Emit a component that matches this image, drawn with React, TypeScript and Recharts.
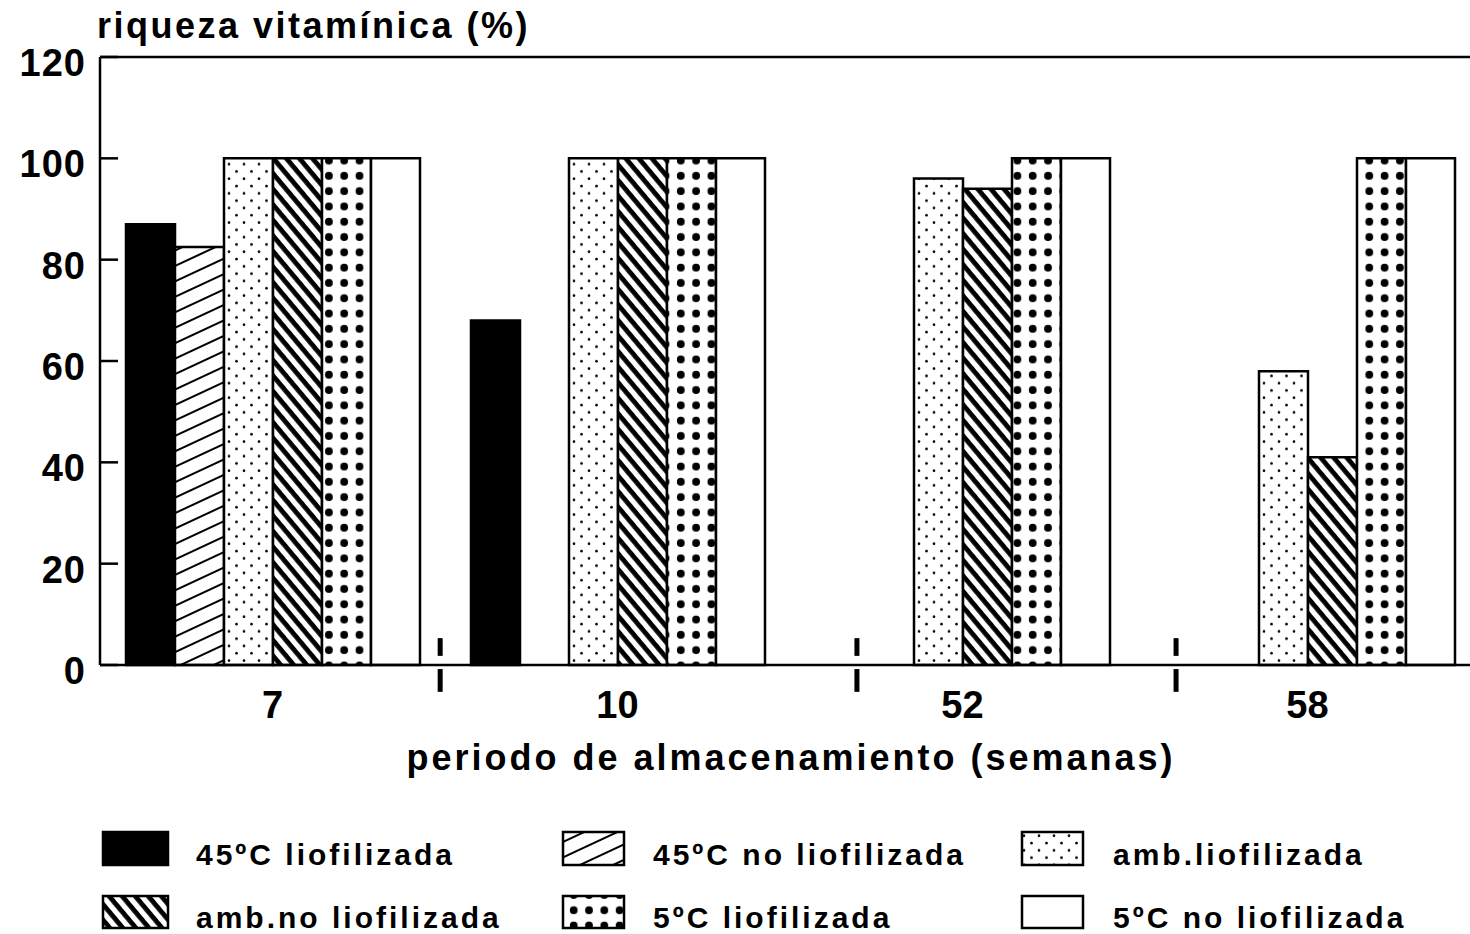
import { BarChart, Bar, XAxis, YAxis, ReferenceLine } from "recharts";

// storage period (weeks)
const CATEGORIES = ["7", "10", "52", "58"];

// vitamin content (%) per series, same order as CATEGORIES
const S45_LIO = [87, 68, null, null];
const S45_NOLIO = [82.5, null, null, null];
const AMB_LIO = [100, 100, 96, 58];
const AMB_NOLIO = [100, 100, 94, 41];
const S5_LIO = [100, 100, 100, 100];
const S5_NOLIO = [100, 100, 100, 100];

const Y_TICKS = [0, 20, 40, 60, 80, 100, 120];

// break marks on the x axis, in band units (0..4)
const SEPARATORS = [0.986, 2.194, 3.119];

const FONT = "'Liberation Sans', Arial, Helvetica, sans-serif";

const SERIES = [
  { key: "s45lio", name: "45ºC liofilizada", fill: "#000", values: S45_LIO },
  { key: "s45nolio", name: "45ºC no liofilizada", fill: "url(#hatchUp)", values: S45_NOLIO },
  { key: "amblio", name: "amb.liofilizada", fill: "url(#fineDots)", values: AMB_LIO },
  { key: "ambnolio", name: "amb.no liofilizada", fill: "url(#stripes)", values: AMB_NOLIO },
  { key: "s5lio", name: "5ºC liofilizada", fill: "url(#bigDots)", values: S5_LIO },
  { key: "s5nolio", name: "5ºC no liofilizada", fill: "#fff", values: S5_NOLIO },
];

const data = CATEGORIES.map((period, i) => {
  // band = centre of the category in band units, used by the separator axis
  const row: Record<string, string | number | null> = { period, band: i + 0.5 };
  SERIES.forEach((s) => {
    row[s.key] = s.values[i];
  });
  return row;
});

// legend grid: 3 columns, 2 rows
const LEGEND_COLS = [
  { box: 103, w: 65, text: 196 },
  { box: 563, w: 61, text: 653 },
  { box: 1022, w: 61, text: 1113 },
];
const LEGEND_ROWS = [
  { box: 832, h: 33, base: 865 },
  { box: 896, h: 32, base: 928 },
];

function YTick(props: any) {
  const { x, y, payload } = props;
  const axisX = x + 12;
  return (
    <g>
      <line x1={axisX} y1={y} x2={axisX + 18} y2={y} stroke="#000" strokeWidth={2.5} />
      <text
        x={x - 2}
        y={y}
        dy={19}
        textAnchor="end"
        fill="#000"
        fontSize={38}
        fontWeight={700}
        fontFamily={FONT}
        letterSpacing={1}
      >
        {payload.value}
      </text>
    </g>
  );
}

function Patterns() {
  return (
    <defs>
      <pattern id="hatchUp" patternUnits="userSpaceOnUse" width="14" height="14" patternTransform="rotate(-25)">
        <rect width="14" height="14" fill="#fff" />
        <line x1="0" y1="7" x2="14" y2="7" stroke="#000" strokeWidth="2" />
      </pattern>
      <pattern id="stripes" patternUnits="userSpaceOnUse" width="10" height="10" patternTransform="rotate(50)">
        <rect width="10" height="10" fill="#fff" />
        <rect x="0" y="0" width="10" height="4.8" fill="#000" />
      </pattern>
      <pattern id="fineDots" patternUnits="userSpaceOnUse" width="15" height="14.6">
        <rect width="15" height="14.6" fill="#fff" />
        <circle cx="4" cy="3.6" r="1.3" fill="#000" />
        <circle cx="11.5" cy="10.9" r="1.3" fill="#000" />
      </pattern>
      <pattern id="bigDots" patternUnits="userSpaceOnUse" width="15.3" height="15.3">
        <rect width="15.3" height="15.3" fill="#fff" />
        <circle cx="7.6" cy="7.6" r="3.9" fill="#000" />
      </pattern>
    </defs>
  );
}

export default function App() {
  return (
    <div
      style={{
        position: "absolute",
        left: 0,
        top: 0,
        width: 1470,
        height: 934,
        overflow: "hidden",
        background: "#fff",
      }}
    >
      <BarChart
        width={1480}
        height={934}
        data={data}
        margin={{ top: 57, right: 0, bottom: 239, left: 0 }}
        barSize={49}
        barGap={0}
      >
        <Patterns />
        <XAxis
          dataKey="period"
          height={30}
          tickLine={false}
          tickSize={0}
          tickMargin={26}
          axisLine={{ stroke: "#000", strokeWidth: 2.5 }}
          tick={{ fill: "#000", fontSize: 38, fontWeight: 700, fontFamily: FONT }}
        />
        <XAxis
          xAxisId="sep"
          dataKey="band"
          type="number"
          domain={[0, 4]}
          allowDataOverflow
          hide
        />
        <YAxis
          width={100}
          type="number"
          domain={[0, 120]}
          ticks={Y_TICKS}
          interval={0}
          tickLine={false}
          tickSize={0}
          tickMargin={12}
          axisLine={{ stroke: "#000", strokeWidth: 2.5 }}
          tick={<YTick />}
        />
        <ReferenceLine y={120} stroke="#000" strokeWidth={2.5} />
        {SERIES.map((s) => (
          <Bar
            key={s.key}
            dataKey={s.key}
            name={s.name}
            fill={s.fill}
            stroke="#000"
            strokeWidth={2.5}
            isAnimationActive={false}
          />
        ))}
        {SEPARATORS.map((x) => (
          <ReferenceLine
            key={"a" + x}
            xAxisId="sep"
            ifOverflow="visible"
            segment={[
              { x, y: 5.3 },
              { x, y: 1.8 },
            ]}
            stroke="#000"
            strokeWidth={5}
          />
        ))}
        {SEPARATORS.map((x) => (
          <ReferenceLine
            key={"b" + x}
            xAxisId="sep"
            ifOverflow="visible"
            segment={[
              { x, y: -0.8 },
              { x, y: -5.3 },
            ]}
            stroke="#000"
            strokeWidth={5}
          />
        ))}
      </BarChart>

      <svg
        width={1470}
        height={934}
        style={{ position: "absolute", left: 0, top: 0, pointerEvents: "none" }}
        fontFamily={FONT}
        fontWeight={700}
        fill="#000"
      >
        <text x={97} y={38} fontSize={36} letterSpacing={2.5}>
          riqueza vitamínica (%)
        </text>
        <text x={791} y={770} fontSize={36} letterSpacing={3}>
          <tspan textAnchor="middle">periodo de almacenamiento (semanas)</tspan>
        </text>
        {SERIES.map((s, i) => {
          const col = LEGEND_COLS[i % 3];
          const row = LEGEND_ROWS[Math.floor(i / 3)];
          return (
            <g key={s.key}>
              <rect
                x={col.box}
                y={row.box}
                width={col.w}
                height={row.h}
                fill={s.fill}
                stroke="#000"
                strokeWidth={2.5}
              />
              <text x={col.text} y={row.base} fontSize={30} letterSpacing={3}>
                {s.name}
              </text>
            </g>
          );
        })}
      </svg>
    </div>
  );
}
